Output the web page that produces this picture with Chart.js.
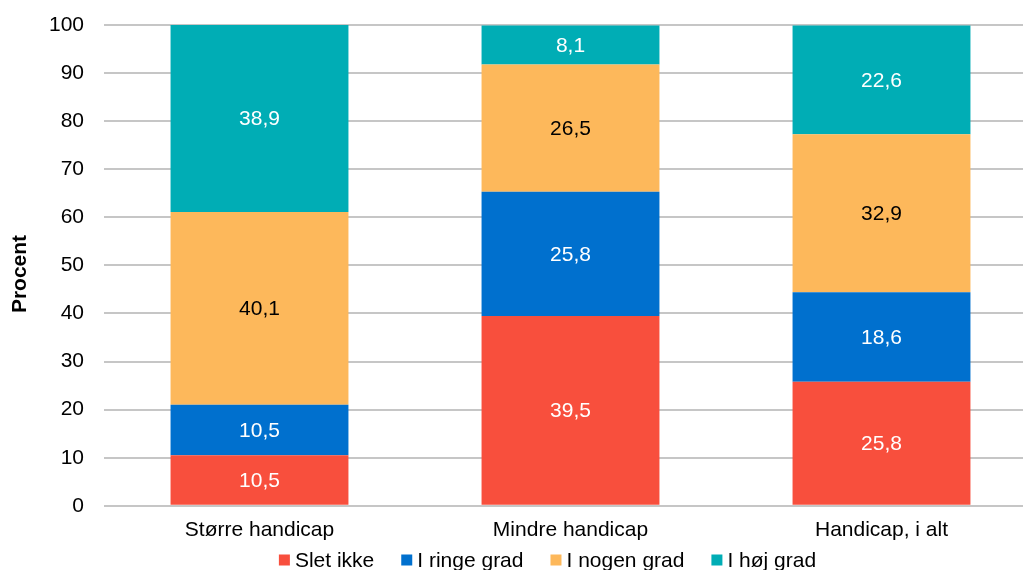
<!DOCTYPE html>
<html><head><meta charset="utf-8">
<script src="https://cdn.jsdelivr.net/npm/chart.js@4/dist/chart.umd.min.js"></script>
<style>html,body{margin:0;padding:0;overflow:hidden;background:#fff}#wrap{width:1040px;height:570px;position:relative}</style>
</head><body><div id="wrap"><canvas id="c"></canvas></div>
<script>
const categories = ["Større handicap", "Mindre handicap", "Handicap, i alt"];
const sletIkke = [10.5, 39.5, 25.8];
const iRingeGrad = [10.5, 25.8, 18.6];
const iNogenGrad = [40.1, 26.5, 32.9];
const iHoejGrad = [38.9, 8.1, 22.6];
const seriesNames = ["Slet ikke", "I ringe grad", "I nogen grad", "I høj grad"];
const yTicks = [0,10,20,30,40,50,60,70,80,90,100];
const yTitle = "Procent";

const colors = ["#F84F3D", "#0070CE", "#FDB85B", "#00ADB5"];
const labelColors = ["#ffffff", "#ffffff", "#000000", "#ffffff"];
const font = "'Liberation Sans', Arial, sans-serif";
const FS = 21;

const labelPlugin = {
  id: 'vals',
  afterDatasetsDraw(chart) {
    const ctx = chart.ctx;
    ctx.save();
    ctx.font = FS + "px " + font;
    ctx.textAlign = 'center';
    ctx.textBaseline = 'middle';
    chart.data.datasets.forEach((ds, i) => {
      const meta = chart.getDatasetMeta(i);
      meta.data.forEach((bar, j) => {
        const v = ds.data[j];
        ctx.fillStyle = labelColors[i];
        const y = (bar.y + bar.base) / 2;
        ctx.fillText(v.toFixed(1).replace('.', ','), bar.x, y + 1);
      });
    });
    ctx.restore();
  }
};

const legendPlugin = {
  id: 'customLegend',
  afterDraw(chart) {
    const ctx = chart.ctx;
    ctx.save();
    ctx.font = "21px " + font;
    ctx.textBaseline = 'middle';
    ctx.textAlign = 'left';
    const box = 11, gapBT = 5, gapItem = 27;
    const items = chart.data.datasets.map(ds => ({ text: ds.label, color: ds.backgroundColor, w: ctx.measureText(ds.label).width }));
    let total = items.reduce((s, it) => s + box + gapBT + it.w, 0) + gapItem * (items.length - 1);
    let x = 547.5 - total / 2;
    const cy = 560;
    items.forEach(it => {
      ctx.fillStyle = it.color;
      ctx.fillRect(x, cy - box / 2, box, box);
      ctx.fillStyle = '#000';
      ctx.fillText(it.text, x + box + gapBT, cy + 1);
      x += box + gapBT + it.w + gapItem;
    });
    // y-axis title
    ctx.save();
    ctx.translate(20, 274);
    ctx.rotate(-Math.PI / 2);
    ctx.font = "bold " + FS + "px " + font;
    ctx.textAlign = 'center';
    ctx.textBaseline = 'middle';
    ctx.fillStyle = '#000';
    ctx.fillText(yTitle, 0, 0);
    ctx.restore();
    ctx.restore();
  }
};

const data = [sletIkke, iRingeGrad, iNogenGrad, iHoejGrad];
new Chart(document.getElementById('c'), {
  type: 'bar',
  data: {
    labels: categories,
    datasets: data.map((d, i) => ({
      label: seriesNames[i],
      data: d,
      backgroundColor: colors[i],
      barPercentage: 0.572,
      categoryPercentage: 1.0,
      borderWidth: 0
    }))
  },
  plugins: [labelPlugin, legendPlugin],
  options: {
    responsive: true,
    maintainAspectRatio: false,
    animation: false,
    layout: { padding: { top: 25, left: 0, right: 3, bottom: 15 } },
    plugins: {
      tooltip: { enabled: false },
      legend: { display: false }
    },
    scales: {
      x: {
        stacked: true,
        grid: { display: false, drawTicks: false },
        border: { display: false },
        ticks: { font: { family: font, size: FS }, color: '#000', padding: 12, maxRotation: 0 }
      },
      y: {
        stacked: true,
        min: 0, max: 100,
        afterBuildTicks(axis) { axis.ticks = yTicks.map(v => ({ value: v })); },
        afterFit(axis) { axis.width = 104; axis.paddingTop = 0; axis.paddingBottom = 0; },
        grid: { color: '#c6c6c6', lineWidth: 2, drawTicks: false },
        border: { display: false },
        ticks: { font: { family: font, size: FS }, color: '#000', padding: 20 },
        title: { display: false }
      }
    }
  }
});
</script></body></html>
